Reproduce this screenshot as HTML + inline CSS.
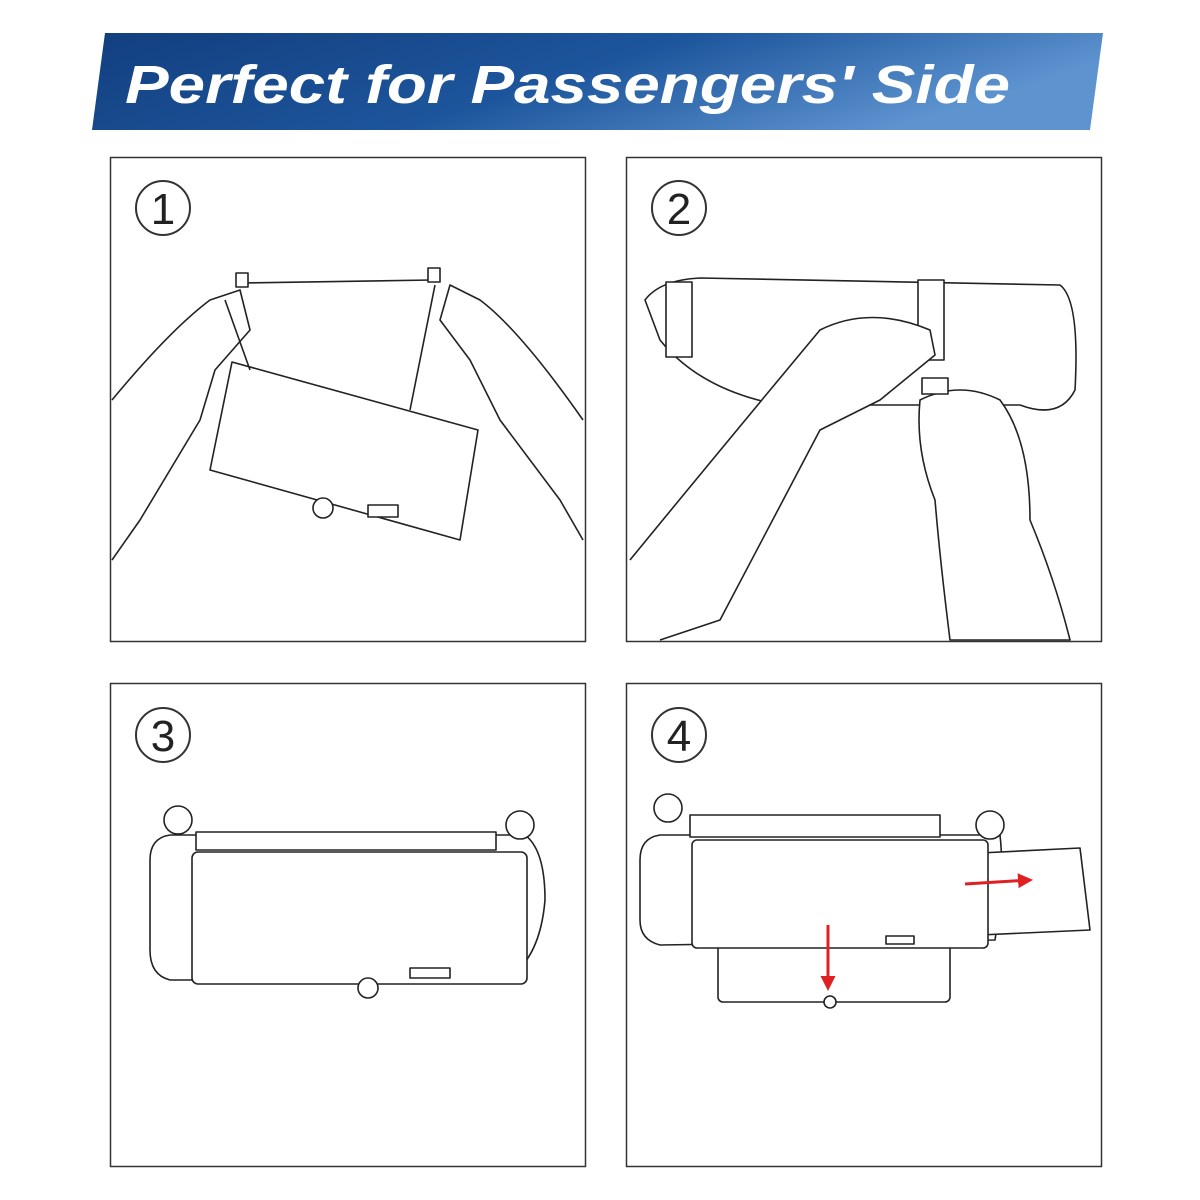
<!DOCTYPE html>
<html><head><meta charset="utf-8"><style>
html,body{margin:0;padding:0;background:#fff;}
svg{display:block}
</style></head><body>
<svg width="1200" height="1200" viewBox="0 0 1200 1200" xmlns="http://www.w3.org/2000/svg">
<defs>
<linearGradient id="bg" x1="0" y1="0" x2="1" y2="0.3">
<stop offset="0" stop-color="#123f7e"/>
<stop offset="0.55" stop-color="#1d559c"/>
<stop offset="1" stop-color="#5d93cf"/>
</linearGradient>
<marker id="ar" viewBox="0 0 10 10" refX="8" refY="5" markerWidth="5" markerHeight="5" orient="auto"><path d="M0 0L10 5L0 10z" fill="#e02020"/></marker>
</defs>
<polygon points="105,33 1103,33 1090,130 92,130" fill="url(#bg)"/>
<text x="125" y="103" font-family="Liberation Sans, sans-serif" font-weight="bold" font-style="italic" font-size="54" fill="#fff" textLength="885" lengthAdjust="spacingAndGlyphs">Perfect for Passengers' Side</text>
<g fill="none" stroke="#333" stroke-width="1.5">
<rect x="110.5" y="157.5" width="475" height="484"/>
<rect x="626.5" y="157.5" width="475" height="484"/>
<rect x="110.5" y="683.5" width="475" height="483"/>
<rect x="626.5" y="683.5" width="475" height="483"/>
<circle cx="163" cy="208" r="27" stroke-width="2"/>
<circle cx="679" cy="208" r="27" stroke-width="2"/>
<circle cx="163" cy="735" r="27" stroke-width="2"/>
<circle cx="679" cy="735" r="27" stroke-width="2"/>
</g>
<g font-family="Liberation Sans, sans-serif" font-size="44" fill="#222" text-anchor="middle">
<text x="163" y="224">1</text><text x="679" y="224">2</text><text x="163" y="751">3</text><text x="679" y="751">4</text>
</g>
<g fill="#fff" stroke="#222" stroke-width="1.6" stroke-linejoin="round">
<!-- panel 1 -->
<path d="M112 400 Q170 330 210 300 L240 290 L250 330 L215 370 L200 420 L140 520 L112 560"/>
<path d="M583 420 Q520 330 480 300 L450 285 L440 320 L470 360 L500 420 L560 500 L583 540"/>
<line x1="240" y1="283" x2="432" y2="280"/>
<rect x="236" y="273" width="12" height="14"/><rect x="428" y="268" width="12" height="14"/>
<polygon points="232,362 478,430 460,540 210,470"/>
<line x1="225" y1="300" x2="250" y2="370"/><line x1="435" y1="285" x2="410" y2="410"/>
<rect x="368" y="505" width="30" height="12"/><circle cx="323" cy="508" r="10"/>
<!-- panel 2 -->
<path d="M645 300 Q660 280 700 278 L1060 285 Q1080 300 1075 390 Q1060 420 1020 405 L780 405 Q700 390 660 340 Z"/>
<rect x="666" y="282" width="26" height="75"/><rect x="918" y="280" width="26" height="80"/>
<path d="M630 560 Q720 450 820 330 Q870 305 930 330 L935 355 L880 400 L820 430 L720 620 L660 640"/>
<path d="M920 400 Q960 380 1000 400 Q1030 440 1030 520 Q1055 580 1070 640 L950 640 Q940 560 935 500 Q915 450 920 400 Z"/>
<rect x="922" y="378" width="26" height="16"/>
<!-- panel 3 -->
<path d="M150 860 Q150 838 170 835 L525 835 Q545 850 545 900 Q540 960 505 980 L170 980 Q150 975 150 950 Z"/>
<circle cx="178" cy="820" r="14"/><circle cx="520" cy="825" r="14"/>
<rect x="196" y="832" width="300" height="18"/>
<rect x="192" y="852" width="335" height="132" rx="6"/>
<rect x="410" y="968" width="40" height="10"/><circle cx="368" cy="988" r="10"/>
<!-- panel 4 -->
<path d="M640 860 Q640 838 660 835 L1000 835 Q1005 880 995 940 L660 945 Q640 940 640 920 Z"/>
<circle cx="668" cy="808" r="14"/><circle cx="990" cy="825" r="14"/>
<rect x="690" y="815" width="250" height="22"/>
<rect x="718" y="920" width="232" height="82" rx="5"/>
<path d="M980 853 L1080 848 L1090 930 L980 935 Z"/>
<rect x="692" y="840" width="296" height="108" rx="5"/>
<rect x="886" y="936" width="28" height="8"/><circle cx="830" cy="1002" r="6"/>
</g>
<g stroke="#e02020" stroke-width="3" fill="none" marker-end="url(#ar)">
<line x1="965" y1="884" x2="1030" y2="880"/>
<line x1="828" y1="925" x2="828" y2="988"/>
</g>
</svg>
</body></html>
